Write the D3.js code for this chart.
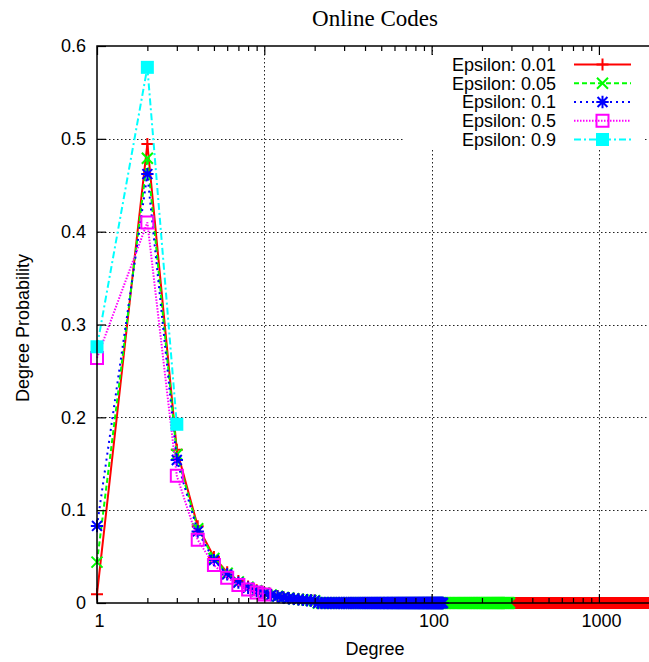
<!DOCTYPE html>
<html>
<head>
<meta charset="utf-8">
<script src="https://cdn.jsdelivr.net/npm/d3@7"></script>
<style>
  html, body { margin: 0; padding: 0; background: #fff; }
  svg { display: block; }
</style>
</head>
<body>
<script>
// ---------------- DATA ----------------
const chartTitle = "Online Codes";
const xLabel = "Degree";
const yLabel = "Degree Probability";

const seriesNames = ["Epsilon: 0.01", "Epsilon: 0.05", "Epsilon: 0.1", "Epsilon: 0.5", "Epsilon: 0.9"];

// Degree probabilities for degree 1, 2, 3, ...
const eps001 = [0.0095, 0.4945, 0.1650, 0.0826, 0.0496, 0.0330, 0.0236, 0.0177, 0.0138, 0.0110,
                0.0090, 0.0075, 0.0064, 0.0055, 0.0047, 0.0041, 0.0036, 0.0032, 0.0029, 0.0026];
const eps005 = [0.0440, 0.4790, 0.1600, 0.0799, 0.0480, 0.0320, 0.0228, 0.0171, 0.0133, 0.0107,
                0.0087, 0.0073, 0.0061, 0.0053, 0.0046, 0.0040, 0.0035, 0.0031, 0.0028, 0.0025];
const eps01  = [0.0830, 0.4620, 0.1540, 0.0771, 0.0462, 0.0308, 0.0220, 0.0165, 0.0128, 0.0103,
                0.0084, 0.0070, 0.0059, 0.0051, 0.0044, 0.0039, 0.0034, 0.0030, 0.0027, 0.0024];
const eps05  = [0.2640, 0.4100, 0.1370, 0.0680, 0.0410, 0.0272, 0.0194, 0.0146, 0.0113, 0.0091];
const eps09  = [0.2760, 0.5770, 0.1925];

// highest degree of each distribution (where each band of markers ends)
const lastDegree = [2115, 292, 117, 10, 3];
// value of the long tails beyond the listed degrees (reads as 0 at this scale)
const tailLevel = 0;

const yTicks = [0, 0.1, 0.2, 0.3, 0.4, 0.5, 0.6];
const xTicks = [1, 10, 100, 1000];
const yDomain = [0, 0.6];
const xDomain = [1, 2115];

// ---------------- STYLE ----------------
const colors = ["#ff0000", "#00ff00", "#0000ff", "#ff00ff", "#00ffff"];
const dashes = [null, "5,3", "2,4", "1.5,1.5", "7,3,2,3"];
const markerTypes = ["plus", "cross", "star", "square", "fsquare"];

const W = 649, H = 662;
const padL = 97, padT = 46, padB = 603;
const decadePx = 167.3;
const padR = padL + decadePx * Math.log10(xDomain[1]);

const svg = d3.select("body").append("svg").attr("width", W).attr("height", H)
  .style("font-family", "'Liberation Sans', Arial, Helvetica, sans-serif");

const x = d3.scaleLog().domain(xDomain).range([padL, padR]);
const y = d3.scaleLinear().domain(yDomain).range([padB, padT]);

// ---------------- GRID ----------------
const grid = svg.append("g").attr("stroke", "#222").attr("stroke-width", 1)
  .attr("stroke-dasharray", "1.5,2.5").attr("fill", "none");
grid.selectAll("line.h").data(yTicks.filter(v => v > yDomain[0] && v < yDomain[1])).join("line")
  .attr("class", "h")
  .attr("x1", padL).attr("x2", padR)
  .attr("y1", d => Math.round(y(d)) + 0.5).attr("y2", d => Math.round(y(d)) + 0.5);
grid.selectAll("line.v").data(xTicks.filter(v => v > xDomain[0])).join("line")
  .attr("class", "v")
  .attr("y1", padT).attr("y2", padB)
  .attr("x1", d => Math.round(x(d)) + 0.5).attr("x2", d => Math.round(x(d)) + 0.5);

// ---------------- SERIES ----------------
function markerPath(type, s) {
  switch (type) {
    case "plus": return `M${-s},0H${s}M0,${-s}V${s}`;
    case "cross": return `M${-s},${-s}L${s},${s}M${-s},${s}L${s},${-s}`;
    case "star": return `M${-s},0H${s}M0,${-s}V${s}M${-s*0.8},${-s*0.8}L${s*0.8},${s*0.8}M${-s*0.8},${s*0.8}L${s*0.8},${-s*0.8}`;
    default: return `M${-s},${-s}H${s}V${s}H${-s}Z`;
  }
}
const markerHalf = [6, 5.5, 6.2, 6, 6.5];

function buildPoints(values, last) {
  const pts = values.map((v, i) => ({ d: i + 1, v }));
  for (let d = values.length + 1; d <= last; d++) pts.push({ d, v: tailLevel });
  return pts;
}
const allValues = [eps001, eps005, eps01, eps05, eps09];
const series = allValues.map((vals, i) => buildPoints(vals, lastDegree[i]));

const line = d3.line().x(p => x(p.d)).y(p => y(p.v));

series.forEach((pts, i) => {
  const g = svg.append("g");
  g.append("path").attr("d", line(pts)).attr("fill", "none")
    .attr("stroke", colors[i]).attr("stroke-width", 2)
    .attr("stroke-dasharray", dashes[i]);
  const t = markerTypes[i];
  g.selectAll("path.m").data(pts).join("path")
    .attr("class", "m")
    .attr("transform", p => `translate(${x(p.d)},${y(p.v)})`)
    .attr("d", markerPath(t, markerHalf[i]))
    .attr("fill", t === "fsquare" ? colors[i] : "none")
    .attr("stroke", t === "fsquare" ? "none" : colors[i])
    .attr("stroke-width", 2);
});

// ---------------- KEY ----------------
const key = svg.append("g");
key.append("rect").attr("x", 405).attr("y", 55).attr("width", 238).attr("height", 93).attr("fill", "#fff");
seriesNames.forEach((name, i) => {
  const cy = 64.5 + i * 18.75;
  key.append("text").attr("x", 556).attr("y", cy).attr("dy", "0.35em")
    .attr("text-anchor", "end").attr("font-size", 18).attr("fill", "#000").text(name);
  key.append("line").attr("x1", 574).attr("x2", 631).attr("y1", cy).attr("y2", cy)
    .attr("stroke", colors[i]).attr("stroke-width", 2).attr("stroke-dasharray", dashes[i]);
  const t = markerTypes[i];
  key.append("path").attr("transform", `translate(602.5,${cy})`)
    .attr("d", markerPath(t, markerHalf[i]))
    .attr("fill", t === "fsquare" ? colors[i] : "none")
    .attr("stroke", t === "fsquare" ? "none" : colors[i])
    .attr("stroke-width", 2);
});

// ---------------- AXES ----------------
const axisStyle = g => {
  g.select(".domain").remove();
  g.selectAll(".tick line").attr("stroke", "#000").attr("stroke-width", 1.2);
  g.selectAll(".tick text").attr("font-size", 18).attr("fill", "#000")
    .attr("font-family", "'Liberation Sans', Arial, Helvetica, sans-serif");
};
svg.append("g").attr("transform", `translate(${padL},0)`)
  .call(d3.axisLeft(y).tickValues(yTicks).tickFormat(d3.format("")).tickSize(-9).tickPadding(11))
  .call(axisStyle);
svg.append("g").attr("transform", `translate(0,${padB})`)
  .call(d3.axisBottom(x).tickValues(xTicks).tickFormat(d3.format("d")).tickSize(-9).tickPadding(11))
  .call(axisStyle)
  .call(g => g.selectAll(".tick text").attr("dx", 2));
svg.append("g").attr("transform", `translate(0,${padT})`)
  .call(d3.axisTop(x).tickValues(xTicks).tickFormat("").tickSize(-9))
  .call(axisStyle);
// minor log ticks
const minor = x.ticks().filter(v => !xTicks.includes(v));
svg.append("g").attr("transform", `translate(0,${padB})`)
  .call(d3.axisBottom(x).tickValues(minor).tickFormat("").tickSize(-5)).call(axisStyle);
svg.append("g").attr("transform", `translate(0,${padT})`)
  .call(d3.axisTop(x).tickValues(minor).tickFormat("").tickSize(-5)).call(axisStyle);

// border
svg.append("rect").attr("x", padL).attr("y", padT).attr("width", padR - padL).attr("height", padB - padT)
  .attr("fill", "none").attr("stroke", "#000").attr("stroke-width", 1.5);

// ---------------- LABELS ----------------
svg.append("text").attr("x", 375).attr("y", 26).attr("text-anchor", "middle")
  .attr("font-family", "'Liberation Serif', 'Times New Roman', serif").attr("font-size", 23)
  .attr("fill", "#000").text(chartTitle);
svg.append("text").attr("x", 375).attr("y", 655).attr("text-anchor", "middle")
  .attr("font-size", 18).attr("fill", "#000").text(xLabel);
svg.append("text").attr("transform", "translate(29,328) rotate(-90)").attr("text-anchor", "middle")
  .attr("font-size", 18).attr("fill", "#000").text(yLabel);
</script>
</body>
</html>
